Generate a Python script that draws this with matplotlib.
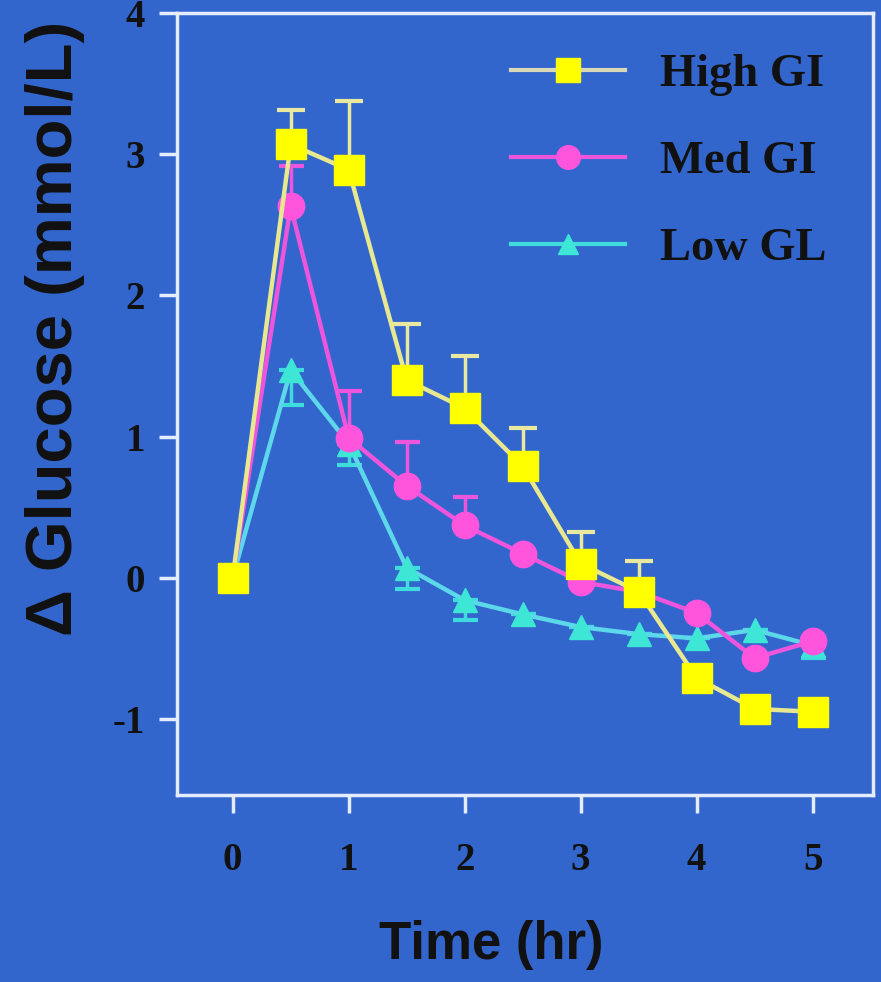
import matplotlib.pyplot as plt

plt.rcParams["axes.unicode_minus"] = False

# Time points (hr)
time_hr = [0, 0.5, 1, 1.5, 2, 2.5, 3, 3.5, 4, 4.5, 5]

# Mean change in glucose (mmol/L)
high_gi = [0.0, 3.07, 2.89, 1.40, 1.20, 0.79, 0.10, -0.10, -0.71, -0.93, -0.95]
med_gi = [0.0, 2.63, 0.99, 0.65, 0.37, 0.17, -0.03, -0.10, -0.25, -0.57, -0.45]
low_gl = [0.0, 1.47, 0.95, 0.07, -0.16, -0.26, -0.35, -0.40, -0.43, -0.37, -0.48]

# Error bars (only the visible half of each one)
high_gi_err_up = [0.0, 0.24, 0.49, 0.40, 0.37, 0.27, 0.22, 0.22, 0.0, 0.0, 0.0]
med_gi_err_up = [0.0, 0.29, 0.33, 0.31, 0.20, 0.0, 0.0, 0.0, 0.0, 0.0, 0.0]
low_gl_err_down = [0.0, 0.25, 0.15, 0.15, 0.14, 0.0, 0.0, 0.0, 0.0, 0.0, 0.09]

zeros = [0.0] * len(time_hr)

bg = "#3366CC"
frame = "#E6ECFF"

fig = plt.figure(figsize=(8.81, 9.82), dpi=100, facecolor=bg)
ax = fig.add_axes([0.2009, 0.1904, 0.7900, 0.7963])
ax.set_facecolor(bg)

# Low GL (drawn first, bottom layer)
ax.errorbar(time_hr, low_gl, yerr=[low_gl_err_down, zeros], color="#5CD8EA", lw=3.2,
            marker="^", ms=17, mfc="#3EE6D6", mec="#3EE6D6", ecolor="#3EDCDC",
            elinewidth=2.5, capsize=9, capthick=3, zorder=2)
# Med GI
ax.errorbar(time_hr, med_gi, yerr=[zeros, med_gi_err_up], color="#EE55DD", lw=3.2,
            marker="o", ms=19, mfc="#FF55DD", mec="#FF55DD", ecolor="#EE55DD",
            elinewidth=2.5, capsize=9, capthick=3, zorder=3)
# High GI
ax.errorbar(time_hr, high_gi, yerr=[zeros, high_gi_err_up], color="#E8E890", lw=3.2,
            marker="s", ms=21, mfc="#FFFF00", mec="#FFFF00", ecolor="#E8E8A0",
            elinewidth=2.5, capsize=10, capthick=3, zorder=4)

# Legend handles
h1, = ax.plot([], [], color="#D8D8B8", lw=3, marker="s", ms=17, mfc="#FFFF00", mec="#FFFF00")
h2, = ax.plot([], [], color="#EE55DD", lw=3, marker="o", ms=17, mfc="#FF55DD", mec="#FF55DD")
h3, = ax.plot([], [], color="#3EDCDC", lw=3, marker="^", ms=14, mfc="#3EE6D6", mec="#3EE6D6")
leg = ax.legend([h1, h2, h3], ["High GI", "Med GI", "Low GL"], loc="upper left",
                bbox_to_anchor=(0.48, 0.948), frameon=False, borderpad=0, borderaxespad=0,
                handlelength=2.45, handletextpad=0.75, labelspacing=0.95,
                prop={"family": "Liberation Serif", "weight": "bold", "size": 33.5})
for t in leg.get_texts():
    t.set_color("#111111")

ax.set_xlim(-0.48, 5.52)
ax.set_ylim(-1.54, 4.0)
ax.set_xticks([0, 1, 2, 3, 4, 5])
ax.set_yticks([-1, 0, 1, 2, 3, 4])

for s in ax.spines.values():
    s.set_color(frame)
    s.set_linewidth(2.5)

ax.tick_params(axis="both", direction="out", length=13, width=2.5, color=frame,
               labelcolor="#111111", labelsize=28)
ax.tick_params(axis="x", pad=21)
ax.tick_params(axis="y", pad=10)
for lab in ax.get_xticklabels() + ax.get_yticklabels():
    lab.set_family("Liberation Serif")
    lab.set_fontweight("bold")

ax.set_xlabel("Time (hr)", fontsize=38, family="Liberation Sans", fontweight="bold",
              color="#111111", va="center")
ax.xaxis.set_label_coords(0.451, -0.192)
ax.set_ylabel("Δ Glucose (mmol/L)", fontsize=47, family="Liberation Sans", fontweight="bold",
              color="#111111", va="center")
ax.yaxis.set_label_coords(-0.175, 0.597)

plt.savefig("out.png", dpi=100, facecolor=bg)
